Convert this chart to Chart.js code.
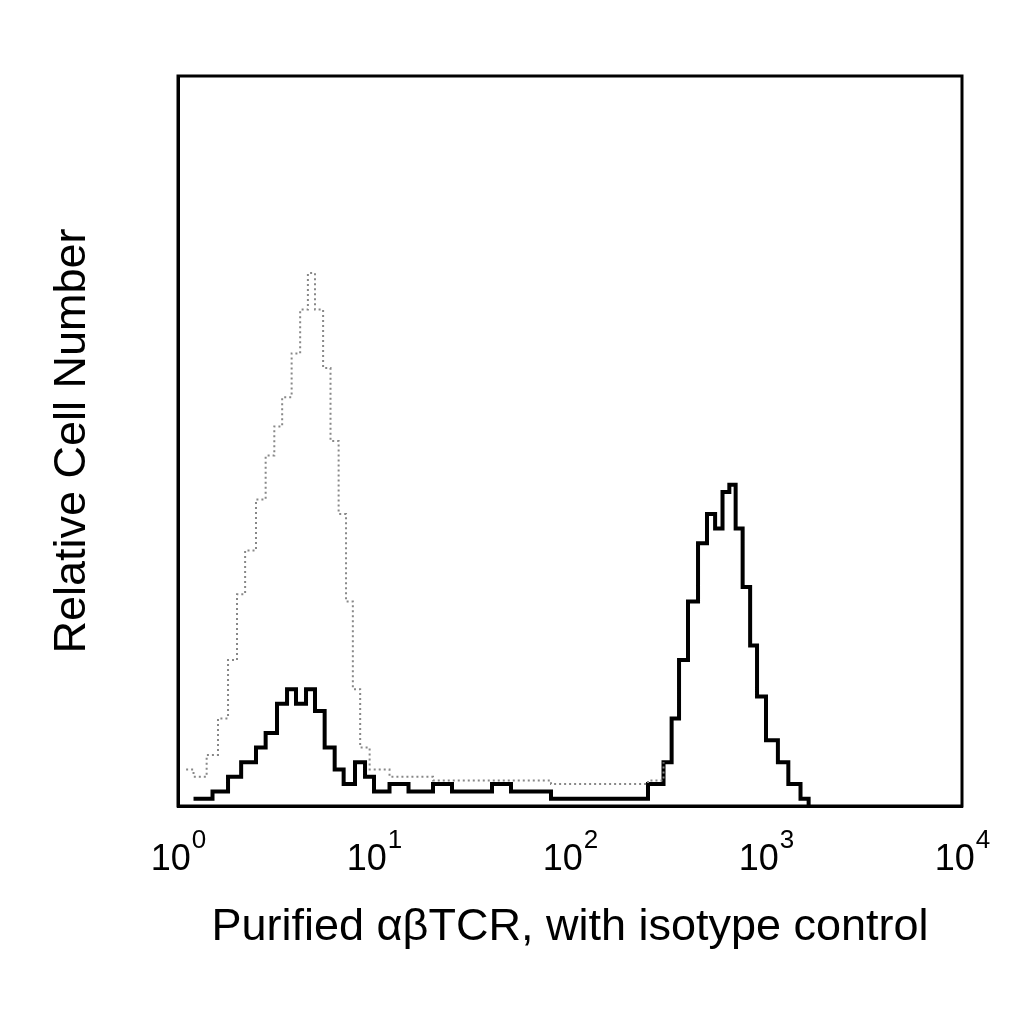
<!DOCTYPE html>
<html>
<head>
<meta charset="utf-8">
<script src="https://cdn.jsdelivr.net/npm/chart.js@4"></script>
<style>
  html, body { margin: 0; background: #fff; }
  #wrap { width: 1024px; height: 1024px; }
</style>
</head>
<body>
<div id="wrap"><canvas id="c"></canvas></div>
<script>
// isotype control (gray, dotted)
const isoX = [1.1, 1.2, 1.4, 1.6, 1.8, 2.0, 2.2, 2.5, 2.8, 3.1, 3.4, 3.8, 4.2, 4.6, 5.0, 5.5, 6.0, 6.6, 7.2, 7.8, 8.5, 9.5, 12, 20, 40, 80, 150, 250, 300];
const isoY = [5, 4, 7, 12, 20, 29, 35, 42, 48, 52, 56, 62, 68, 73, 68, 60, 50, 40, 28, 16, 8, 5, 4, 3.5, 3.5, 3, 3, 3.5, 6];

// purified abTCR (black)
const tcrX = [1.2, 1.5, 1.8, 2.1, 2.5, 2.8, 3.2, 3.6, 4.0, 4.5, 5.0, 5.6, 6.3, 7, 8, 9, 10, 12, 15, 20, 25, 30, 40, 50, 60, 80, 100, 150, 200, 250, 300, 330, 360, 400, 450, 500, 550, 600, 650, 700, 760, 830, 900, 1000, 1150, 1300, 1500, 1650];
const tcrY = [1, 2, 4, 6, 8, 10, 14, 16, 14, 16, 13, 8, 5, 3, 6, 4, 2, 3, 2, 3, 2, 2, 3, 2, 2, 1, 1, 1, 1, 3, 6, 12, 20, 28, 36, 40, 38, 43, 44, 38, 30, 22, 15, 9, 6, 3, 1, 0];

const tickVals = [1, 10, 100, 1000, 10000];
const tickExps = ['0', '1', '2', '3', '4'];

const toPts = (xs, ys) => xs.map((x, i) => ({ x: x, y: ys[i] }));

new Chart(document.getElementById('c'), {
  type: 'line',
  data: {
    datasets: [
      {
        label: 'Isotype control',
        data: toPts(isoX, isoY),
        borderColor: '#888',
        borderWidth: 2,
        borderDash: [2, 3],
        stepped: true,
        pointRadius: 0,
        fill: false
      },
      {
        label: 'Purified abTCR',
        data: toPts(tcrX, tcrY),
        borderColor: '#000',
        borderWidth: 4,
        stepped: true,
        pointRadius: 0,
        fill: false
      }
    ]
  },
  options: {
    responsive: true,
    maintainAspectRatio: false,
    animation: false,
    layout: { padding: { left: 42, right: 62, top: 76, bottom: 65 } },
    plugins: { legend: { display: false }, tooltip: { enabled: false } },
    scales: {
      x: {
        type: 'logarithmic',
        min: 1,
        max: 10000,
        afterBuildTicks: (axis) => { axis.ticks = tickVals.map(v => ({ value: v })); },
        ticks: { display: false },
        grid: { display: false, drawTicks: false },
        border: { color: '#000', width: 3 },
        title: {
          display: true,
          text: 'Purified \u03b1\u03b2TCR, with isotype control',
          color: '#000',
          font: { family: 'Liberation Sans', size: 45 },
          padding: { top: 95 }
        }
      },
      y: {
        min: 0,
        max: 100,
        ticks: { display: false },
        grid: { display: false, drawTicks: false },
        border: { color: '#000', width: 3 },
        title: {
          display: true,
          text: 'Relative Cell Number',
          color: '#000',
          font: { family: 'Liberation Sans', size: 45 },
          padding: { bottom: 78 }
        }
      }
    }
  },
  plugins: [{
    id: 'box',
    afterDraw(chart) {
      const { ctx, chartArea: a } = chart;
      const x = chart.scales.x;
      ctx.save();
      ctx.strokeStyle = '#000';
      ctx.lineWidth = 3;
      ctx.strokeRect(a.left, a.top, a.right - a.left, a.bottom - a.top);
      // tick labels as 10 with superscript exponent
      ctx.fillStyle = '#000';
      ctx.textBaseline = 'alphabetic';
      tickVals.forEach((v, i) => {
        const px = x.getPixelForValue(v);
        ctx.font = '36px "Liberation Sans"';
        const w1 = ctx.measureText('10').width;
        ctx.font = '26px "Liberation Sans"';
        const w2 = ctx.measureText(tickExps[i]).width;
        const start = px - (w1 + w2) / 2;
        ctx.font = '36px "Liberation Sans"';
        ctx.fillText('10', start, a.bottom + 64);
        ctx.font = '26px "Liberation Sans"';
        ctx.fillText(tickExps[i], start + w1 + 1, a.bottom + 42);
      });
      ctx.restore();
    }
  }]
});
</script>
</body>
</html>
